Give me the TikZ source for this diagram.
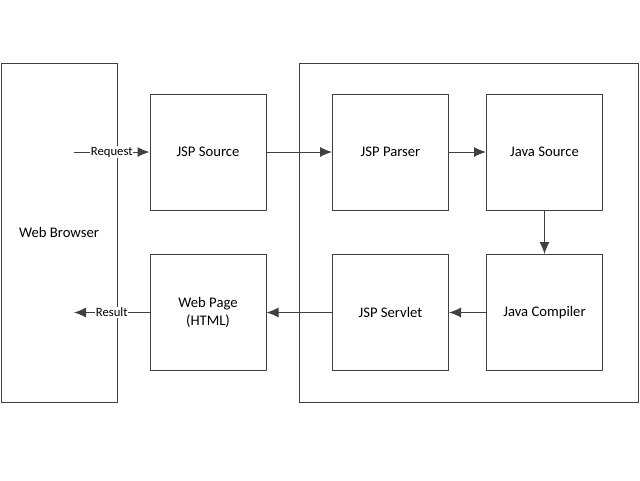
\documentclass[tikz,border=0pt]{standalone}
\usepackage{fontspec}
\setmainfont{Carlito}
\usepackage{xcolor}
\usetikzlibrary{arrows.meta}
\tikzset{>={Latex[length=9pt,width=7.5pt]}}
\colorlet{myline}{black!75}
\tikzset{
  frame/.style={draw=myline,line width=0.75pt,minimum width=87pt,minimum height=254.25pt,font=\fontsize{11}{13}\selectfont},
  stage/.style={draw=myline,line width=0.75pt,minimum width=87pt,minimum height=87pt,align=center,font=\fontsize{11}{13}\selectfont},
  flow/.style={->,draw=myline,line width=0.75pt},
  tag/.style={fill=white,inner sep=0.5pt,font=\fontsize{9.5}{11}\selectfont}
}

\begin{document}
\begin{tikzpicture}[x=0.75pt,y=-0.75pt]
  \useasboundingbox (0,0) rectangle (640,480);

  \def\top{152}
  \def\bot{312.5}
  \coordinate (req) at (74,\top);
  \coordinate (res) at (74,\bot);

  % FRAMES
  \node[frame] (browser) at (59,232.5) {Web Browser};
  \node[frame,minimum width=254.25pt] (engine) at (468.5,232.5) {};

  % STAGES
  \node[stage] (src) at (208,\top) {JSP Source};
  \node[stage] (parser) at (390.5,\top) {JSP Parser};
  \node[stage] (jsrc) at (544.5,\top) {Java Source};
  \node[stage] (compiler) at (544.5,\bot) {Java Compiler};
  \node[stage] (servlet) at (390.5,\bot) {JSP Servlet};
  \node[stage] (page) at (208,\bot) {Web Page\\(HTML)};

  % ARROWS
  \draw[flow] (req) -- node[tag] {Request} (src);
  \draw[flow] (src) -- (parser);
  \draw[flow] (parser) -- (jsrc);
  \draw[flow] (jsrc) -- (compiler);
  \draw[flow] (compiler) -- (servlet);
  \draw[flow] (servlet) -- (page);
  \draw[flow] (page) -- node[tag] {Result} (res);

\end{tikzpicture}
\end{document}
